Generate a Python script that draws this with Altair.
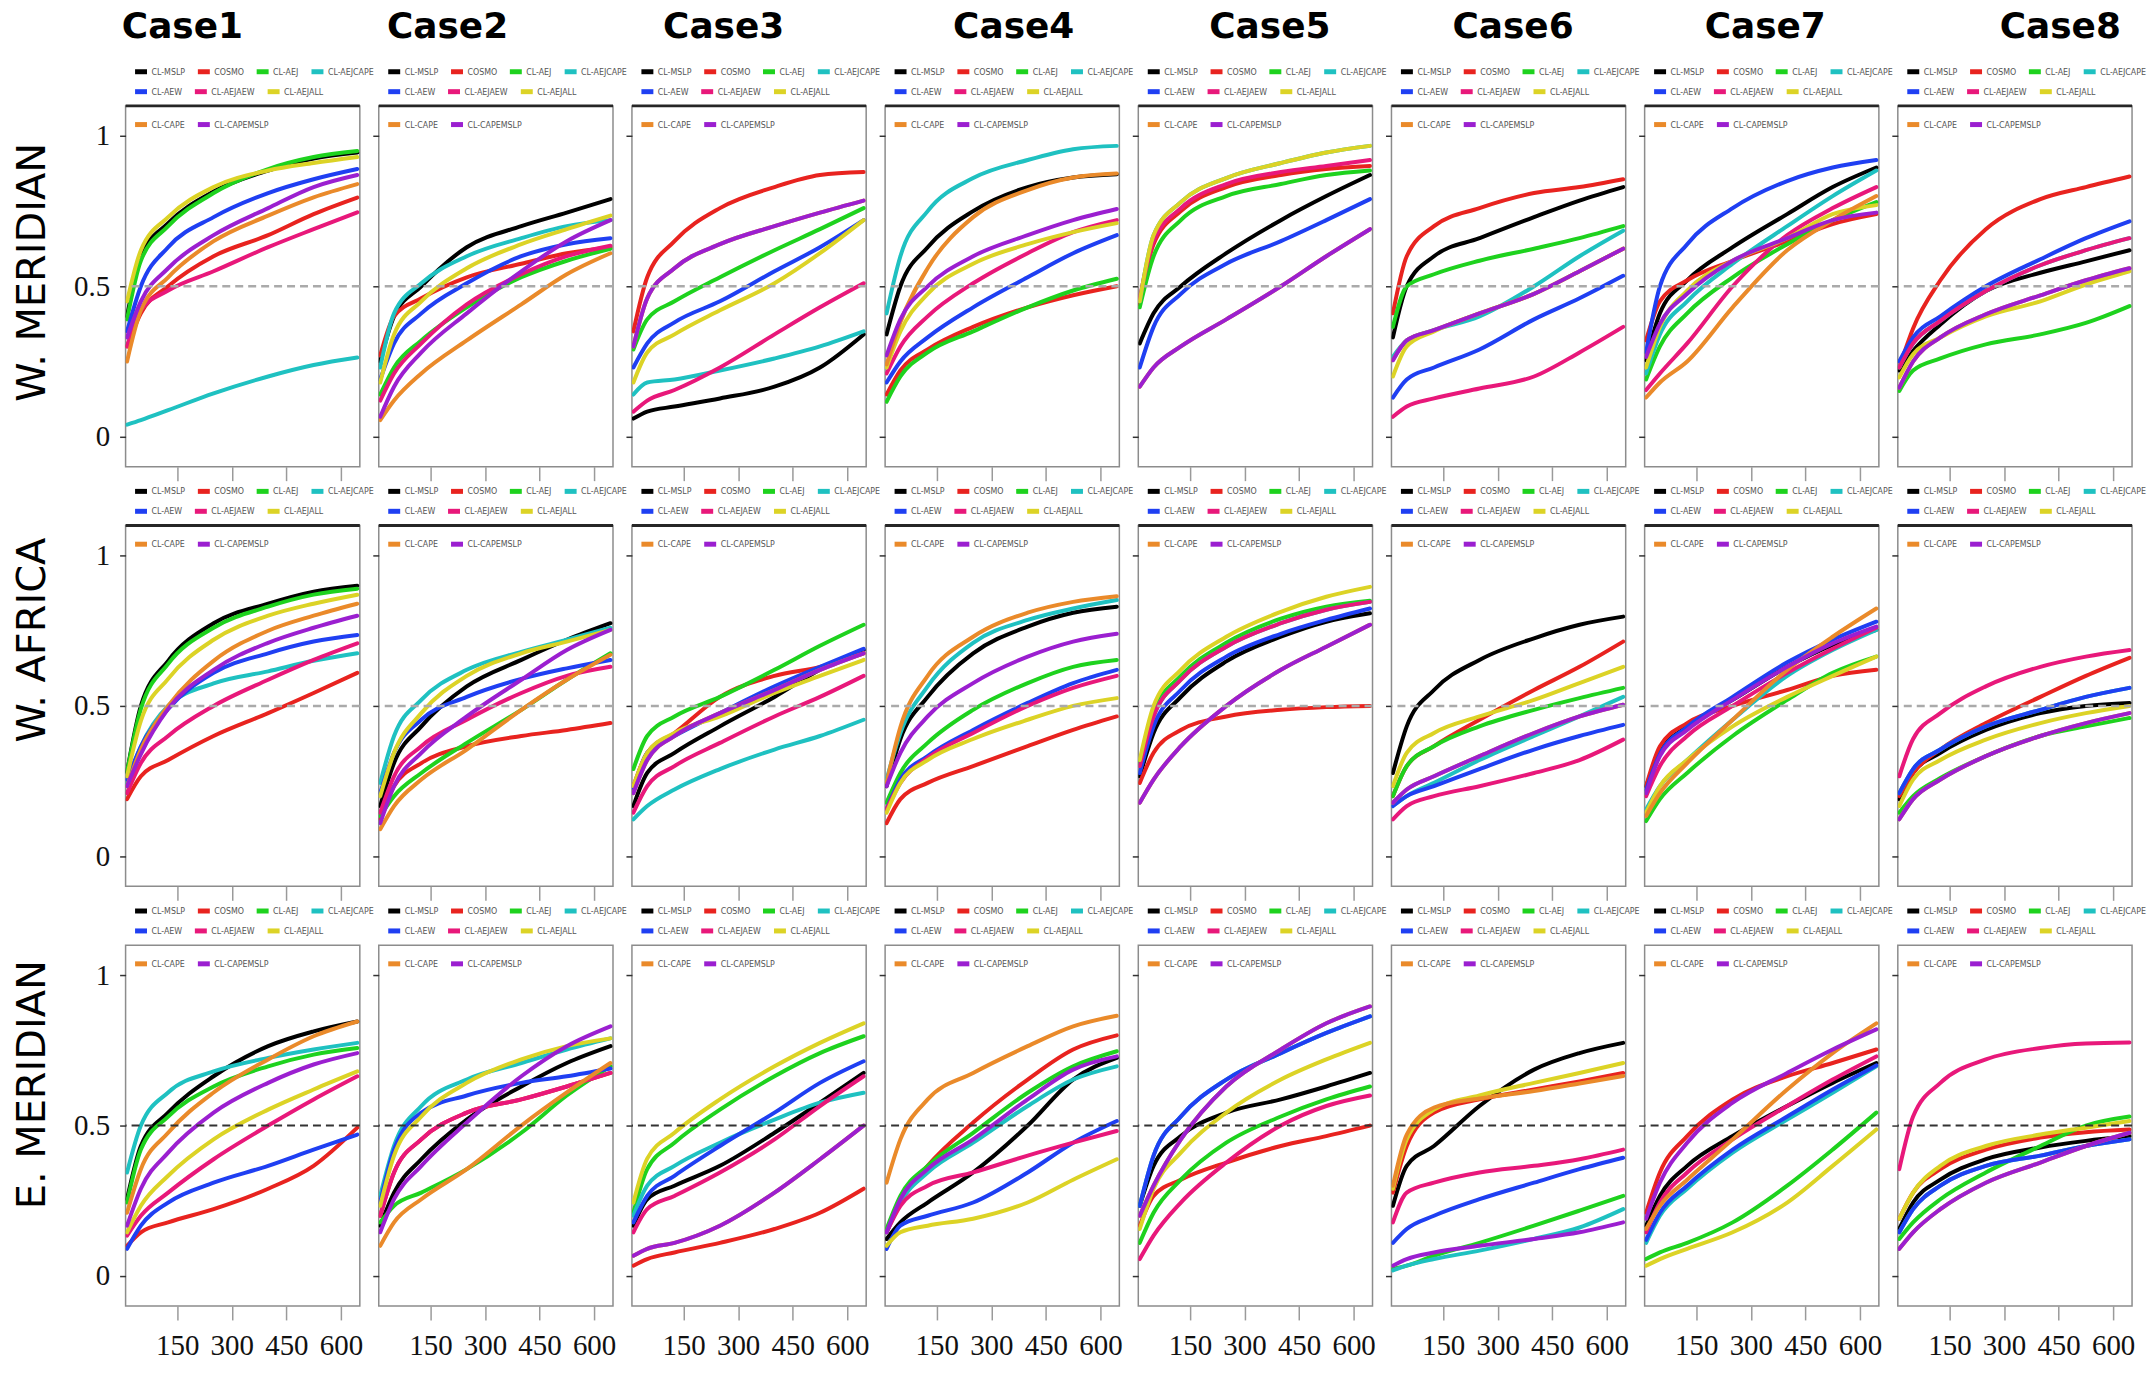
import altair as alt
import pandas as pd

# ---------------- data ----------------
X = [12, 50, 125, 250, 400, 525, 645]
SERIES = ["CL-MSLP", "COSMO", "CL-AEJ", "CL-AEJCAPE", "CL-AEW",
          "CL-AEJAEW", "CL-AEJALL", "CL-CAPE", "CL-CAPEMSLP"]
COLORS = ["#000000", "#e8231f", "#1ed21e", "#1fc1c1", "#1f3ff2",
          "#e8187a", "#dcd326", "#ea8a2a", "#9b1fd0"]
CASES = ["Case1", "Case2", "Case3", "Case4", "Case5", "Case6", "Case7", "Case8"]
REGIONS = ["W. MERIDIAN", "W. AFRICA", "E. MERIDIAN"]

# each panel: 9 series in SERIES order, values at X
WM_CASE1 = [[0.40, 0.60, 0.71, 0.815, 0.885, 0.925, 0.945],
            [0.30, 0.41, 0.50, 0.60, 0.67, 0.74, 0.795],
            [0.39, 0.585, 0.70, 0.81, 0.89, 0.93, 0.95],
            [0.04, 0.055, 0.088, 0.144, 0.20, 0.238, 0.263],
            [0.35, 0.50, 0.63, 0.73, 0.81, 0.856, 0.89],
            [0.30, 0.42, 0.486, 0.55, 0.63, 0.69, 0.746],
            [0.45, 0.62, 0.73, 0.83, 0.885, 0.91, 0.93],
            [0.25, 0.42, 0.53, 0.65, 0.735, 0.796, 0.84],
            [0.33, 0.45, 0.56, 0.67, 0.76, 0.83, 0.87]]
WM_CASE2 = [[0.25, 0.40, 0.50, 0.63, 0.70, 0.745, 0.79],
            [0.27, 0.40, 0.46, 0.53, 0.575, 0.61, 0.63],
            [0.14, 0.23, 0.32, 0.43, 0.53, 0.585, 0.625],
            [0.23, 0.41, 0.51, 0.60, 0.66, 0.70, 0.72],
            [0.19, 0.31, 0.41, 0.51, 0.60, 0.64, 0.66],
            [0.12, 0.21, 0.31, 0.44, 0.54, 0.60, 0.635],
            [0.18, 0.34, 0.45, 0.56, 0.64, 0.69, 0.735],
            [0.055, 0.12, 0.21, 0.32, 0.44, 0.54, 0.61],
            [0.066, 0.166, 0.28, 0.41, 0.55, 0.65, 0.72]]
WM_CASE3 = [[0.06, 0.083, 0.10, 0.127, 0.166, 0.23, 0.34],
            [0.35, 0.53, 0.65, 0.76, 0.83, 0.87, 0.88],
            [0.29, 0.39, 0.45, 0.53, 0.62, 0.69, 0.76],
            [0.14, 0.18, 0.19, 0.22, 0.26, 0.30, 0.35],
            [0.23, 0.31, 0.38, 0.45, 0.55, 0.63, 0.72],
            [0.083, 0.12, 0.155, 0.23, 0.34, 0.43, 0.51],
            [0.18, 0.28, 0.34, 0.42, 0.51, 0.61, 0.72],
            [0.30, 0.46, 0.56, 0.64, 0.70, 0.745, 0.785],
            [0.30, 0.46, 0.56, 0.64, 0.70, 0.745, 0.785]]
WM_CASE4 = [[0.34, 0.50, 0.63, 0.75, 0.83, 0.862, 0.873],
            [0.14, 0.22, 0.29, 0.365, 0.43, 0.47, 0.50],
            [0.116, 0.20, 0.28, 0.35, 0.43, 0.486, 0.525],
            [0.41, 0.60, 0.75, 0.86, 0.92, 0.956, 0.967],
            [0.18, 0.25, 0.33, 0.43, 0.53, 0.61, 0.67],
            [0.21, 0.30, 0.40, 0.51, 0.61, 0.68, 0.72],
            [0.23, 0.35, 0.475, 0.575, 0.64, 0.68, 0.71],
            [0.24, 0.38, 0.56, 0.73, 0.82, 0.862, 0.875],
            [0.27, 0.39, 0.50, 0.60, 0.67, 0.72, 0.757]]
WM_CASE5 = [[0.31, 0.41, 0.50, 0.61, 0.72, 0.80, 0.87],
            [0.44, 0.64, 0.75, 0.83, 0.87, 0.89, 0.90],
            [0.43, 0.60, 0.72, 0.80, 0.84, 0.87, 0.885],
            [0.45, 0.67, 0.78, 0.86, 0.91, 0.945, 0.967],
            [0.23, 0.365, 0.475, 0.575, 0.65, 0.72, 0.79],
            [0.46, 0.65, 0.76, 0.84, 0.88, 0.90, 0.92],
            [0.45, 0.67, 0.78, 0.86, 0.91, 0.945, 0.967],
            [0.166, 0.23, 0.30, 0.39, 0.50, 0.60, 0.69],
            [0.166, 0.23, 0.30, 0.39, 0.50, 0.60, 0.69]]
WM_CASE6 = [[0.33, 0.50, 0.60, 0.66, 0.73, 0.785, 0.83],
            [0.41, 0.60, 0.70, 0.76, 0.81, 0.83, 0.856],
            [0.365, 0.50, 0.54, 0.585, 0.625, 0.66, 0.70],
            [0.265, 0.32, 0.354, 0.40, 0.50, 0.60, 0.685],
            [0.13, 0.19, 0.23, 0.29, 0.39, 0.46, 0.535],
            [0.066, 0.10, 0.127, 0.16, 0.20, 0.28, 0.365],
            [0.20, 0.30, 0.35, 0.41, 0.475, 0.55, 0.625],
            [0.254, 0.32, 0.354, 0.41, 0.475, 0.55, 0.625],
            [0.254, 0.32, 0.354, 0.41, 0.475, 0.55, 0.625]]
WM_CASE7 = [[0.254, 0.41, 0.52, 0.63, 0.74, 0.83, 0.895],
            [0.32, 0.45, 0.52, 0.585, 0.65, 0.707, 0.74],
            [0.19, 0.30, 0.41, 0.53, 0.64, 0.72, 0.78],
            [0.21, 0.34, 0.45, 0.575, 0.70, 0.80, 0.885],
            [0.28, 0.50, 0.64, 0.76, 0.85, 0.895, 0.92],
            [0.155, 0.21, 0.31, 0.50, 0.67, 0.76, 0.83],
            [0.23, 0.365, 0.486, 0.585, 0.66, 0.74, 0.77],
            [0.13, 0.18, 0.25, 0.43, 0.62, 0.72, 0.80],
            [0.265, 0.375, 0.475, 0.585, 0.66, 0.72, 0.745]]
WM_CASE8 = [[0.22, 0.285, 0.373, 0.484, 0.545, 0.583, 0.62],
            [0.23, 0.36, 0.52, 0.69, 0.79, 0.83, 0.865],
            [0.152, 0.22, 0.26, 0.307, 0.34, 0.378, 0.434],
            [0.23, 0.31, 0.385, 0.484, 0.57, 0.62, 0.66],
            [0.25, 0.33, 0.40, 0.50, 0.59, 0.66, 0.716],
            [0.23, 0.31, 0.385, 0.484, 0.57, 0.62, 0.66],
            [0.197, 0.274, 0.33, 0.40, 0.45, 0.506, 0.55],
            [0.163, 0.25, 0.33, 0.407, 0.47, 0.52, 0.56],
            [0.163, 0.25, 0.33, 0.407, 0.47, 0.52, 0.56]]

WA_CASE1 = [[0.28, 0.50, 0.65, 0.775, 0.84, 0.88, 0.90],
            [0.19, 0.266, 0.32, 0.40, 0.476, 0.543, 0.61],
            [0.28, 0.49, 0.64, 0.76, 0.83, 0.87, 0.89],
            [0.244, 0.365, 0.50, 0.575, 0.615, 0.65, 0.675],
            [0.255, 0.365, 0.49, 0.61, 0.675, 0.714, 0.736],
            [0.21, 0.31, 0.40, 0.50, 0.587, 0.653, 0.708],
            [0.266, 0.45, 0.59, 0.72, 0.80, 0.84, 0.87],
            [0.233, 0.355, 0.50, 0.65, 0.75, 0.80, 0.84],
            [0.233, 0.34, 0.49, 0.62, 0.71, 0.76, 0.80]]
WA_CASE2 = [[0.167, 0.31, 0.432, 0.565, 0.653, 0.72, 0.775],
            [0.123, 0.233, 0.31, 0.366, 0.40, 0.42, 0.443],
            [0.134, 0.20, 0.277, 0.377, 0.487, 0.587, 0.675],
            [0.244, 0.40, 0.52, 0.62, 0.68, 0.72, 0.76],
            [0.21, 0.344, 0.454, 0.53, 0.59, 0.625, 0.653],
            [0.145, 0.266, 0.366, 0.454, 0.543, 0.60, 0.63],
            [0.20, 0.344, 0.476, 0.60, 0.675, 0.714, 0.753],
            [0.09, 0.167, 0.255, 0.355, 0.487, 0.587, 0.67],
            [0.11, 0.233, 0.344, 0.465, 0.587, 0.686, 0.753]]
WA_CASE3 = [[0.167, 0.277, 0.344, 0.432, 0.53, 0.62, 0.686],
            [0.233, 0.344, 0.41, 0.53, 0.60, 0.63, 0.675],
            [0.29, 0.40, 0.465, 0.53, 0.62, 0.70, 0.77],
            [0.123, 0.167, 0.222, 0.29, 0.355, 0.40, 0.454],
            [0.222, 0.344, 0.40, 0.476, 0.565, 0.63, 0.69],
            [0.145, 0.233, 0.30, 0.377, 0.465, 0.53, 0.60],
            [0.233, 0.344, 0.41, 0.465, 0.543, 0.60, 0.653],
            [0.21, 0.32, 0.40, 0.476, 0.553, 0.62, 0.675],
            [0.21, 0.32, 0.40, 0.476, 0.553, 0.62, 0.675]]
WA_CASE4 = [[0.233, 0.39, 0.53, 0.675, 0.764, 0.81, 0.83],
            [0.11, 0.19, 0.244, 0.30, 0.366, 0.42, 0.465],
            [0.178, 0.277, 0.377, 0.487, 0.576, 0.63, 0.653],
            [0.255, 0.41, 0.565, 0.71, 0.786, 0.824, 0.852],
            [0.156, 0.255, 0.333, 0.42, 0.51, 0.576, 0.62],
            [0.156, 0.244, 0.327, 0.41, 0.50, 0.56, 0.60],
            [0.145, 0.244, 0.32, 0.39, 0.454, 0.50, 0.526],
            [0.244, 0.43, 0.60, 0.73, 0.81, 0.846, 0.865],
            [0.233, 0.344, 0.465, 0.576, 0.664, 0.714, 0.74]]
WA_CASE5 = [[0.266, 0.41, 0.53, 0.648, 0.73, 0.78, 0.808],
            [0.244, 0.344, 0.42, 0.465, 0.487, 0.496, 0.50],
            [0.31, 0.48, 0.60, 0.71, 0.79, 0.83, 0.85],
            [0.30, 0.465, 0.587, 0.697, 0.775, 0.82, 0.846],
            [0.277, 0.432, 0.553, 0.664, 0.74, 0.786, 0.824],
            [0.30, 0.465, 0.587, 0.697, 0.775, 0.82, 0.846],
            [0.32, 0.50, 0.62, 0.73, 0.813, 0.863, 0.896],
            [0.178, 0.255, 0.366, 0.50, 0.62, 0.697, 0.77],
            [0.178, 0.255, 0.366, 0.50, 0.62, 0.697, 0.77]]
WA_CASE6 = [[0.277, 0.432, 0.553, 0.653, 0.725, 0.77, 0.797],
            [0.20, 0.30, 0.366, 0.454, 0.553, 0.63, 0.714],
            [0.20, 0.30, 0.366, 0.432, 0.487, 0.526, 0.56],
            [0.167, 0.20, 0.244, 0.32, 0.40, 0.465, 0.53],
            [0.167, 0.20, 0.233, 0.29, 0.355, 0.40, 0.437],
            [0.123, 0.167, 0.20, 0.233, 0.277, 0.32, 0.388],
            [0.233, 0.344, 0.41, 0.465, 0.52, 0.576, 0.63],
            [0.178, 0.222, 0.266, 0.333, 0.41, 0.465, 0.504],
            [0.178, 0.222, 0.266, 0.333, 0.41, 0.465, 0.504]]
WA_CASE7 = [[0.233, 0.344, 0.432, 0.52, 0.63, 0.703, 0.753],
            [0.233, 0.366, 0.443, 0.50, 0.553, 0.60, 0.62],
            [0.117, 0.19, 0.277, 0.40, 0.52, 0.61, 0.664],
            [0.156, 0.233, 0.32, 0.454, 0.60, 0.686, 0.753],
            [0.22, 0.34, 0.43, 0.53, 0.645, 0.72, 0.78],
            [0.20, 0.30, 0.40, 0.50, 0.61, 0.69, 0.76],
            [0.145, 0.233, 0.32, 0.432, 0.53, 0.60, 0.664],
            [0.134, 0.21, 0.31, 0.454, 0.62, 0.73, 0.824],
            [0.21, 0.333, 0.42, 0.52, 0.63, 0.708, 0.764]]
WA_CASE8 = [[0.19, 0.277, 0.344, 0.42, 0.476, 0.50, 0.51],
            [0.20, 0.277, 0.355, 0.443, 0.53, 0.60, 0.66],
            [0.145, 0.20, 0.26, 0.333, 0.40, 0.432, 0.46],
            [0.21, 0.29, 0.355, 0.432, 0.487, 0.53, 0.56],
            [0.21, 0.29, 0.355, 0.432, 0.487, 0.53, 0.56],
            [0.266, 0.39, 0.476, 0.565, 0.63, 0.664, 0.686],
            [0.167, 0.255, 0.32, 0.388, 0.443, 0.476, 0.50],
            [0.123, 0.19, 0.255, 0.333, 0.40, 0.443, 0.476],
            [0.123, 0.19, 0.255, 0.333, 0.40, 0.443, 0.476]]

EM_CASE1 = [[0.255, 0.432, 0.543, 0.664, 0.764, 0.813, 0.846],
            [0.10, 0.145, 0.178, 0.222, 0.29, 0.366, 0.493],
            [0.244, 0.42, 0.53, 0.63, 0.697, 0.736, 0.758],
            [0.344, 0.50, 0.61, 0.68, 0.725, 0.753, 0.775],
            [0.09, 0.167, 0.244, 0.31, 0.366, 0.42, 0.47],
            [0.134, 0.20, 0.277, 0.388, 0.50, 0.587, 0.664],
            [0.145, 0.233, 0.333, 0.454, 0.553, 0.62, 0.68],
            [0.21, 0.355, 0.476, 0.61, 0.72, 0.797, 0.846],
            [0.167, 0.29, 0.41, 0.543, 0.642, 0.703, 0.741]]
EM_CASE2 = [[0.167, 0.277, 0.388, 0.52, 0.63, 0.708, 0.764],
            [0.20, 0.344, 0.454, 0.543, 0.587, 0.63, 0.675],
            [0.178, 0.233, 0.277, 0.355, 0.476, 0.60, 0.697],
            [0.266, 0.432, 0.565, 0.653, 0.708, 0.753, 0.79],
            [0.244, 0.42, 0.543, 0.60, 0.642, 0.664, 0.69],
            [0.20, 0.344, 0.454, 0.543, 0.587, 0.63, 0.675],
            [0.233, 0.40, 0.53, 0.642, 0.72, 0.764, 0.79],
            [0.10, 0.178, 0.255, 0.355, 0.50, 0.61, 0.708],
            [0.145, 0.255, 0.366, 0.51, 0.664, 0.764, 0.83]]
EM_CASE3 = [[0.167, 0.255, 0.30, 0.366, 0.476, 0.576, 0.675],
            [0.034, 0.056, 0.078, 0.11, 0.156, 0.21, 0.29],
            [0.21, 0.355, 0.443, 0.553, 0.664, 0.741, 0.797],
            [0.20, 0.30, 0.366, 0.443, 0.52, 0.576, 0.609],
            [0.178, 0.266, 0.333, 0.432, 0.543, 0.642, 0.714],
            [0.145, 0.222, 0.266, 0.344, 0.454, 0.565, 0.664],
            [0.244, 0.39, 0.476, 0.587, 0.697, 0.775, 0.84],
            [0.067, 0.09, 0.11, 0.167, 0.277, 0.388, 0.50],
            [0.067, 0.09, 0.11, 0.167, 0.277, 0.388, 0.50]]
EM_CASE4 = [[0.123, 0.178, 0.244, 0.344, 0.50, 0.653, 0.725],
            [0.145, 0.244, 0.366, 0.51, 0.653, 0.753, 0.80],
            [0.156, 0.266, 0.366, 0.476, 0.609, 0.697, 0.747],
            [0.145, 0.244, 0.344, 0.443, 0.565, 0.653, 0.697],
            [0.09, 0.167, 0.20, 0.244, 0.344, 0.443, 0.515],
            [0.145, 0.233, 0.30, 0.344, 0.40, 0.443, 0.482],
            [0.10, 0.145, 0.167, 0.19, 0.244, 0.32, 0.388],
            [0.31, 0.454, 0.587, 0.675, 0.764, 0.83, 0.865],
            [0.145, 0.255, 0.355, 0.454, 0.587, 0.686, 0.73]]
EM_CASE5 = [[0.233, 0.366, 0.465, 0.543, 0.587, 0.63, 0.675],
            [0.167, 0.266, 0.32, 0.377, 0.432, 0.465, 0.50],
            [0.11, 0.21, 0.32, 0.443, 0.53, 0.587, 0.63],
            [0.233, 0.40, 0.53, 0.653, 0.741, 0.808, 0.863],
            [0.233, 0.40, 0.53, 0.653, 0.741, 0.808, 0.863],
            [0.056, 0.134, 0.244, 0.377, 0.50, 0.565, 0.60],
            [0.156, 0.29, 0.41, 0.543, 0.653, 0.72, 0.775],
            [0.20, 0.30, 0.454, 0.63, 0.753, 0.84, 0.896],
            [0.20, 0.30, 0.454, 0.63, 0.753, 0.84, 0.896]]
EM_CASE6 = [[0.233, 0.366, 0.432, 0.565, 0.686, 0.741, 0.775],
            [0.277, 0.432, 0.543, 0.587, 0.62, 0.647, 0.675],
            [0.023, 0.034, 0.067, 0.11, 0.167, 0.217, 0.266],
            [0.018, 0.034, 0.056, 0.084, 0.123, 0.161, 0.222],
            [0.11, 0.156, 0.20, 0.255, 0.31, 0.355, 0.393],
            [0.178, 0.277, 0.31, 0.344, 0.366, 0.388, 0.42],
            [0.29, 0.454, 0.553, 0.60, 0.642, 0.675, 0.708],
            [0.30, 0.47, 0.56, 0.59, 0.615, 0.64, 0.665],
            [0.034, 0.056, 0.078, 0.10, 0.123, 0.145, 0.178]]
EM_CASE7 = [[0.167, 0.266, 0.366, 0.465, 0.565, 0.642, 0.708],
            [0.21, 0.344, 0.465, 0.587, 0.664, 0.708, 0.753],
            [0.056, 0.078, 0.11, 0.178, 0.30, 0.42, 0.543],
            [0.11, 0.20, 0.29, 0.41, 0.52, 0.609, 0.697],
            [0.12, 0.21, 0.30, 0.42, 0.53, 0.62, 0.70],
            [0.145, 0.244, 0.344, 0.454, 0.565, 0.653, 0.73],
            [0.034, 0.056, 0.09, 0.145, 0.244, 0.366, 0.487],
            [0.156, 0.233, 0.32, 0.454, 0.62, 0.741, 0.84],
            [0.19, 0.31, 0.443, 0.576, 0.675, 0.753, 0.82]]
EM_CASE8 = [[0.156, 0.244, 0.32, 0.388, 0.427, 0.449, 0.465],
            [0.19, 0.277, 0.355, 0.42, 0.46, 0.478, 0.487],
            [0.123, 0.178, 0.255, 0.344, 0.432, 0.50, 0.53],
            [0.145, 0.222, 0.30, 0.366, 0.40, 0.432, 0.454],
            [0.145, 0.222, 0.30, 0.366, 0.40, 0.432, 0.454],
            [0.355, 0.53, 0.642, 0.72, 0.758, 0.773, 0.776],
            [0.19, 0.277, 0.366, 0.432, 0.47, 0.493, 0.515],
            [0.09, 0.145, 0.222, 0.31, 0.377, 0.432, 0.476],
            [0.09, 0.145, 0.222, 0.31, 0.377, 0.432, 0.476]]

PANELS = [
    [WM_CASE1, WM_CASE2, WM_CASE3, WM_CASE4, WM_CASE5, WM_CASE6, WM_CASE7, WM_CASE8],
    [WA_CASE1, WA_CASE2, WA_CASE3, WA_CASE4, WA_CASE5, WA_CASE6, WA_CASE7, WA_CASE8],
    [EM_CASE1, EM_CASE2, EM_CASE3, EM_CASE4, EM_CASE5, EM_CASE6, EM_CASE7, EM_CASE8],
]

# ---------------- layout / style ----------------
PANEL_W, PANEL_H = 235, 362
TITLE_X = [57, 69, 92, 129, 132, 122, 121, 163]
REGION_Y = [167, 115, 140]
LEGEND_ROWS = [(0, 4, -43), (4, 7, -23), (7, 9, 10)]
LEGFONT = "Liberation Sans Narrow, DejaVu Sans Condensed, Liberation Sans, sans-serif"
TICKFONT = "Liberation Serif, serif"

XS = alt.Scale(domain=[8, 652], nice=False, zero=False)
YS = alt.Scale(domain=[-0.1, 1.1], nice=False, zero=False)


def x_axis(r):
    return alt.Axis(values=[150, 300, 450, 600], format="d", labels=(r == 2),
                    ticks=True, tickSize=14, tickColor="#9a9a9a", tickWidth=1.5,
                    domain=False, grid=False, title=None,
                    labelFont=TICKFONT, labelFontSize=29, labelPadding=12,
                    labelColor="#111111")


def y_axis(c):
    return alt.Axis(values=[0, 0.5, 1], format="~g", labels=(c == 0),
                    ticks=True, tickSize=6, tickColor="#333333", tickWidth=1.5,
                    domain=False, grid=False, title=None,
                    labelFont=TICKFONT, labelFontSize=29, labelPadding=10,
                    labelColor="#111111")


def panel(vals, r, c):
    recs = []
    for name, ys in zip(SERIES, vals):
        for xv, yv in zip(X, ys):
            recs.append({"series": name, "x": xv, "y": yv})
    df = pd.DataFrame(recs)

    layers = []
    for a, b, ly in LEGEND_ROWS:
        names = SERIES[a:b]
        cols = COLORS[a:b]
        sub = df[df["series"].isin(names)]
        layers.append(
            alt.Chart(sub).mark_line(strokeWidth=4, interpolate="monotone",
                                     strokeCap="round", clip=True).encode(
                x=alt.X("x:Q", scale=XS, axis=x_axis(r)),
                y=alt.Y("y:Q", scale=YS, axis=y_axis(c)),
                color=alt.Color(
                    "series:N",
                    scale=alt.Scale(domain=names, range=cols),
                    sort=names,
                    legend=alt.Legend(
                        orient="none", legendX=7, legendY=ly,
                        direction="horizontal", title=None,
                        symbolType="stroke", symbolStrokeWidth=5,
                        symbolSize=144, labelFont=LEGFONT, labelFontSize=8.8,
                        labelColor="#555555", labelOffset=2,
                        columnPadding=2, padding=0),
                ),
            )
        )

    dummy = pd.DataFrame({"v": [0]})
    dash_col = "#333333" if r == 2 else "#aaaaaa"
    dash_w = 2 if r == 2 else 2.5
    layers.append(
        alt.Chart(dummy).mark_rule(color=dash_col, strokeWidth=dash_w,
                                   strokeDash=[8, 5]).encode(
            y=alt.YDatum(0.5, scale=YS, axis=y_axis(c)))
    )
    if r < 2:
        layers.append(
            alt.Chart(dummy).mark_rule(color="#262626", strokeWidth=3).encode(
                y=alt.value(0))
        )
    if r == 0:
        layers.append(
            alt.Chart(pd.DataFrame({"t": [CASES[c]]})).mark_text(
                font="DejaVu Sans", fontSize=36, fontWeight="bold",
                align="center", baseline="alphabetic", color="#000000").encode(
                text="t:N", x=alt.value(TITLE_X[c]), y=alt.value(-68))
        )
    if c == 0:
        layers.append(
            alt.Chart(pd.DataFrame({"t": [REGIONS[r]]})).mark_text(
                font="DejaVu Sans", fontSize=40, angle=270,
                align="center", baseline="middle", color="#000000").encode(
                text="t:N", x=alt.value(-93), y=alt.value(REGION_Y[r]))
        )

    return alt.layer(*layers).resolve_scale(color="independent").resolve_legend(
        color="independent").properties(width=PANEL_W, height=PANEL_H)


cells = [panel(PANELS[r][c], r, c) for r in range(3) for c in range(8)]

chart = alt.concat(*cells, columns=8,
                   spacing=alt.RowColnumber(row=59, column=19),
                   bounds="flush").resolve_scale(
    color="independent").resolve_legend(color="independent").properties(
    padding={"left": 12, "top": 6, "right": 0, "bottom": 0},
    background="white",
).configure_view(stroke="#8c8c8c", strokeWidth=1.5)

chart.save("out.html", embed_options={"renderer": "svg", "actions": False})
